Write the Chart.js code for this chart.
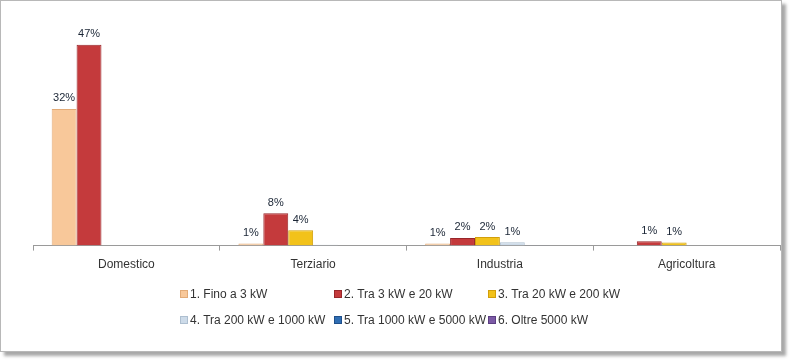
<!DOCTYPE html>
<html>
<head>
<meta charset="utf-8">
<script src="https://cdn.jsdelivr.net/npm/chart.js@4.4.0/dist/chart.umd.min.js"></script>
<style>
  html, body { margin: 0; padding: 0; background: #fff; }
  #frame {
    position: absolute; left: 0; top: 0; width: 780px; height: 350px;
    border: 1px solid #b8b8b8; box-shadow: 4px 4px 3px #a8a8a8; background: #fff;
  }
  #wrap { position: absolute; left: 0; top: 0; width: 791px; height: 362px; }
  #legend {
    position: absolute; left: 180px; top: 286px; width: 470px;
    display: grid; grid-template-columns: 154px 154px 160px; row-gap: 10px;
    font: 12px 'Liberation Sans', Arial, sans-serif; color: #333;
  }
  #legend div { white-space: nowrap; line-height: 16px; }
  #legend span.box {
    display: inline-block; width: 8px; height: 8px; margin-right: 2px;
    vertical-align: 0px; box-sizing: border-box; border: 1px solid;
  }
</style>
</head>
<body>
<div id="frame"></div>
<div id="wrap"><canvas id="plot" width="791" height="362"></canvas></div>
<div id="legend"></div>
<script>
var categories = ["Domestico", "Terziario", "Industria", "Agricoltura"];
var seriesNames = ["1. Fino a 3 kW", "2. Tra 3 kW e 20 kW", "3. Tra 20 kW e 200 kW",
  "4. Tra 200 kW e 1000 kW", "5. Tra 1000 kW e 5000 kW", "6. Oltre 5000 kW"];
var fino3 = [32, 0.5, 0.5, 0];
var tra3_20 = [47, 7.6, 1.8, 1.0];
var tra20_200 = [0, 3.6, 2.0, 0.7];
var tra200_1000 = [0, 0.2, 0.8, 0];
var tra1000_5000 = [0, 0, 0.1, 0];
var oltre5000 = [0, 0, 0, 0];
var colors = ["#f8c89a", "#c43a3c", "#f2c21a", "#cddbe9", "#2f6db3", "#7c5aa6"];
var borders = ["#e2ab78", "#98262a", "#d29f0a", "#aebfd0", "#1f4f8a", "#5b3f82"];

var allSeries = [fino3, tra3_20, tra20_200, tra200_1000, tra1000_5000, oltre5000];
var datasets = allSeries.map(function (vals, i) {
  return {
    label: seriesNames[i],
    data: vals,
    backgroundColor: colors[i],
    borderColor: borders[i],
    borderWidth: 1,
    categoryPercentage: 0.8,
    barPercentage: 1.0
  };
});

var valueLabels = {
  id: "valueLabels",
  afterDatasetsDraw: function (chart) {
    var ctx = chart.ctx;
    ctx.save();
    ctx.font = "11px 'Liberation Sans', Arial, sans-serif";
    ctx.fillStyle = "#1a2535";
    ctx.textAlign = "center";
    ctx.textBaseline = "bottom";
    chart.data.datasets.forEach(function (ds, i) {
      var meta = chart.getDatasetMeta(i);
      meta.data.forEach(function (bar, j) {
        var v = ds.data[j];
        if (v >= 0.5) {
          ctx.fillText(Math.round(v) + "%", bar.x, bar.y - 5);
        }
      });
    });
    ctx.restore();
  }
};

var ctx = document.getElementById("plot").getContext("2d");
var chart = new Chart(ctx, {
  type: "bar",
  data: { labels: categories, datasets: datasets },
  options: {
    responsive: false,
    animation: false,
    layout: { padding: { left: 33, right: 11, top: 32, bottom: 83 } },
    plugins: {
      tooltip: { enabled: false },
      legend: { display: false }
    },
    scales: {
      x: {
        grid: { display: true, drawOnChartArea: false, tickLength: 5, color: "#9a9a9a" },
        border: { color: "#9a9a9a" },
        ticks: { color: "#333", padding: 7, font: { family: "'Liberation Sans', Arial, sans-serif", size: 12 } }
      },
      y: { display: false, min: 0, max: 50 }
    }
  },
  plugins: [valueLabels]
});

// legend built from the chart's own datasets
var legendEl = document.getElementById("legend");
chart.data.datasets.forEach(function (ds) {
  var item = document.createElement("div");
  var box = document.createElement("span");
  box.className = "box";
  box.style.background = ds.backgroundColor;
  box.style.borderColor = ds.borderColor;
  item.appendChild(box);
  item.appendChild(document.createTextNode(ds.label));
  legendEl.appendChild(item);
});
</script>
</body>
</html>
